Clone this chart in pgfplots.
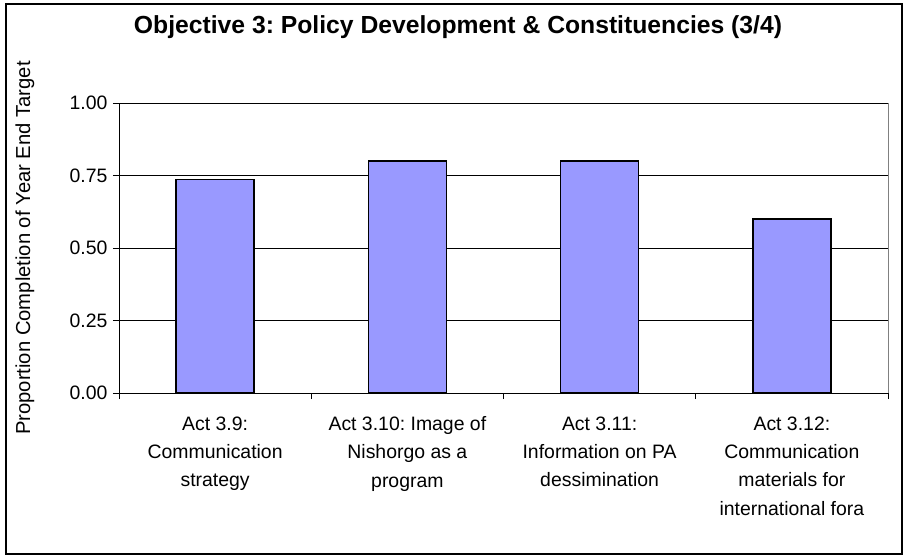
\documentclass[border=0pt]{standalone}
\usepackage{pgfplots}
\pgfplotsset{compat=1.18}
\usepackage{fontspec}
\setmainfont{Liberation Sans}
\definecolor{barblue}{HTML}{9999FF}
\frenchspacing
\begin{document}
\frenchspacing
\begin{tikzpicture}
\useasboundingbox (0,0) rectangle (915bp,-556bp);
\draw[line width=1.2bp] (6bp,-4bp) rectangle (902bp,-554bp);
\node[anchor=base, font=\fontsize{24.8}{28}\selectfont\bfseries] at (458bp,-33bp) {Objective 3: Policy Development \& Constituencies (3/4)};
\begin{axis}[
  scale only axis,
  width=769bp, height=290bp,
  at={(119bp,-393bp)}, anchor=south west,
  xmin=0.5, xmax=4.5, ymin=0, ymax=1,
  axis x line*=bottom, axis y line*=left,
  axis line style={black, line width=1bp},
  xtick={1,2,3,4},
  xticklabels={{Act 3.9:\\Communication\\strategy},{Act 3.10: Image of\\Nishorgo as a\\program},{Act 3.11:\\Information on PA\\dessimination},{Act 3.12:\\Communication\\materials for\\international fora}},
  minor xtick={0.5,1.5,2.5,3.5,4.5},
  every major x tick/.append style={draw=none},
  tick align=outside,
  major tick length=6bp, minor tick length=6bp,
  tick style={black, line width=0.8bp},
  xtick pos=bottom, ytick pos=left,
  ytick={0,0.25,0.5,0.75,1},
  /pgf/number format/fixed,
  /pgf/number format/fixed zerofill,
  /pgf/number format/precision=2,
  /pgf/number format/assume math mode=true,
  ticklabel style={font=\fontsize{19.5}{28.5}\selectfont},
  xticklabel style={align=center, yshift=-14bp},
  yticklabel style={xshift=-2bp},
  ymajorgrids,
  major grid style={black, line width=0.8bp},
  ylabel={Proportion Completion of Year End Target},
  every axis y label/.style={at={(axis description cs:0,0.5)}, xshift=-94bp, rotate=90, anchor=center, font=\fontsize{20.3}{24}\selectfont},
  clip=false,
]
\addplot[ybar, bar width=78bp, fill=barblue, draw=black, line width=1.3bp] coordinates {(1,0.737) (2,0.80) (3,0.80) (4,0.60)};
\draw[gray, line width=1bp] (rel axis cs:1,0) -- (rel axis cs:1,1);
\end{axis}
\end{tikzpicture}
\end{document}
